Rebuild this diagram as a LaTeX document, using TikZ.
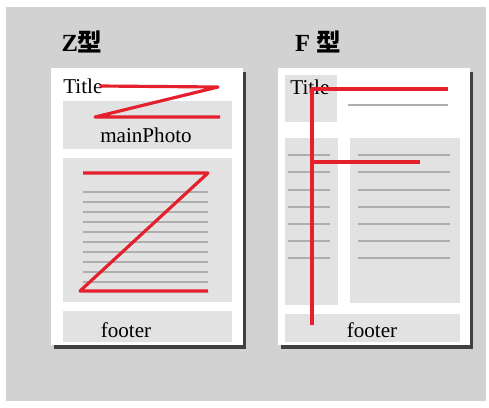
\documentclass[tikz,border=0pt]{standalone}
\usepackage{fontspec}
\setmainfont{Liberation Serif}
\newfontfamily\cjk{Noto Sans CJK SC}
\usetikzlibrary{positioning}

\definecolor{bgtex}{HTML}{D2D2D2}
\definecolor{boxgray}{HTML}{E2E2E2}
\definecolor{rulegray}{HTML}{AEAEAE}
\definecolor{eyered}{HTML}{E3202C}

\begin{document}
\begin{tikzpicture}[x=0.02cm,y=-0.02cm,
    page/.style={fill=white,draw=none},
    pageshadow/.style={fill=black!75,draw=none},
    block/.style={fill=boxgray,draw=none},
    textline/.style={draw=rulegray,line width=0.9pt},
    eyepath/.style={draw=eyered,line width=1.8pt,line join=round},
    heading/.style={font=\fontsize{14}{16}\selectfont\bfseries,inner sep=0pt},
    blocklabel/.style={font=\fontsize{12}{14}\selectfont,inner sep=0pt}]
%
% ============ Hintergrund ============
\fill[white] (0,0) rectangle (489,407);
\fill[bgtex] (6,7) rectangle (486,401);
\useasboundingbox (0,0) rectangle (489,407);
%
% ============ Z-Muster ============
\node[heading] (zhead) at (82,42) {Z\cjk{型}};
% Seite mit Schatten
\fill[pageshadow] (54,72) rectangle (246,349);
\fill[page] (51,68) rectangle (243,345);
% Bloecke
\fill[block] (63,101) rectangle (232,149);
\fill[block] (63,158) rectangle (232,302);
\fill[block] (63,311) rectangle (232,342);
% Textzeilen
\foreach \y in {192,202,...,282}
  \draw[textline] (83,\y) -- (208,\y);
\node[blocklabel,anchor=west] (ztitle) at (63,86) {Title};
\node[blocklabel] (zphoto) at (146,135) {mainPhoto};
\node[blocklabel] (zfoot) at (126,330) {footer};
% Blickverlauf
\coordinate (za) at (100,86);
\coordinate (zb) at (218,87);
\coordinate (zc) at (95,117);
\coordinate (zd) at (220,117);
\coordinate (ze) at (83,173);
\coordinate (zf) at (208,173);
\coordinate (zg) at (80,291);
\coordinate (zh) at (208,291);
\draw[eyepath] (za) -- (zb) -- (zc) -- (zd);
\draw[eyepath] (ze) -- (zf) -- (zg) -- (zh);
%
% ============ F-Muster ============
\node[heading] (fhead) at (318,42) {F \cjk{型}};
% Seite mit Schatten
\fill[pageshadow] (281,72) rectangle (473,349);
\fill[page] (278,68) rectangle (470,345);
% Bloecke
\fill[block] (285,75) rectangle (337,122);
\fill[block] (285,138) rectangle (338,305);
\fill[block] (350,138) rectangle (460,303);
\fill[block] (285,314) rectangle (460,342);
% Textzeilen
\draw[textline] (348,105) -- (448,105);
\foreach \y in {155,172,190,207,224,241,258} {
  \draw[textline] (288,\y) -- (330,\y);
  \draw[textline] (358,\y) -- (450,\y);
}
\node[blocklabel,anchor=west] (ftitle) at (290,87) {Title};
\node[blocklabel] (ffoot) at (372,330) {footer};
% Blickverlauf
\coordinate (fa) at (312,89);
\coordinate (fb) at (448,89);
\coordinate (fc) at (312,162);
\coordinate (fd) at (420,162);
\coordinate (fe) at (312,325);
\draw[eyepath] (fb) -- (fa) -- (fe);
\draw[eyepath] (fc) -- (fd);
%
\end{tikzpicture}
\end{document}
